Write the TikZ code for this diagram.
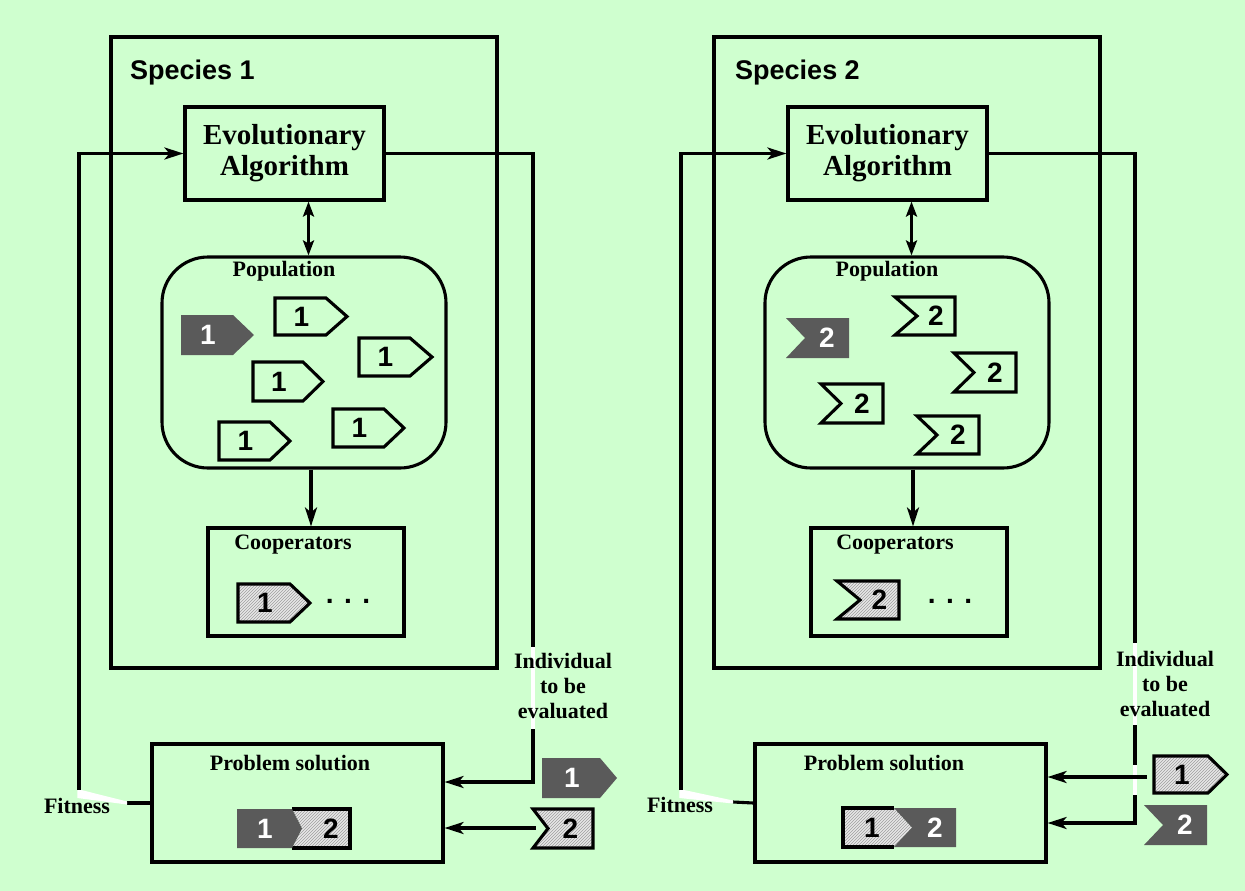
\documentclass[tikz,border=0pt]{standalone}
\usepackage{fontspec}
\setmainfont{Liberation Serif}
\newfontfamily\arialf{Liberation Sans}
\usetikzlibrary{arrows.meta,patterns,calc}
\definecolor{bg}{RGB}{207,255,207}
\definecolor{darkg}{RGB}{90,90,90}
\tikzset{
 ln/.style={line width=3.1pt, line join=miter},
 box/.style={draw, ln, rectangle, inner sep=0pt},
 arr/.style={ln, -{Stealth[length=19pt,width=12pt,inset=5pt]}},
 darr/.style={ln, {Stealth[length=15pt,width=11pt,inset=3pt]}-{Stealth[length=15pt,width=11pt,inset=3pt]}},
 hatch/.style={preaction={fill=black!9}, pattern=north east lines, pattern color=black!38},
 tokw/.style={draw, ln},
 tokh/.style={draw, ln, hatch},
 tokd/.style={fill=darkg},
 dig/.style={font=\arialf\bfseries\fontsize{28}{28}\selectfont, inner sep=0pt},
 digw/.style={dig, text=white},
 lab/.style={font=\bfseries\fontsize{22}{25}\selectfont, inner sep=0pt},
 spec/.style={font=\arialf\bfseries\fontsize{27}{27}\selectfont, inner sep=0pt, anchor=base west},
 eaf/.style={font=\bfseries\fontsize{29}{31}\selectfont, align=center},
 gapw/.style={white, line width=3.3pt},
}
% arrow token: name, x, y(top), body width, tip, height, shape style, text style, label
\newcommand\arrtok[9]{%
 \path[#7] (#2,#3) -- ++(#4,0) -- ++(#5,#6/2) -- ++(-#5,#6/2) -- ++(-#4,0) -- cycle;
 \node[#8] (#1) at ({#2+#4/2+1},{#3+#6/2}) {#9};}
% notch token: name, x, y(top), width, depth, height, shape style, text style, label
\newcommand\notchtok[9]{%
 \path[#7] (#2,#3) -- ++(#4,0) -- ++(0,#6) -- ++(-#4,0) -- ++(#5,-#6/2) -- cycle;
 \node[#8] (#1) at ({#2+#5+(#4-#5)/2},{#3+#6/2}) {#9};}
\begin{document}
\begin{tikzpicture}[x=1pt,y=-1pt]
\useasboundingbox (0,0) rectangle (1245,891);
\fill[bg] (0,0) rectangle (1245,891);

% ================= Species 1 =================
\node[box, minimum width=386pt, minimum height=631pt] (sp1) at (304,352.5) {};
\node[spec] (sl1) at (130,79) {Species 1};
\node[box, minimum width=199pt, minimum height=93pt, eaf] (ea1) at (284.5,153.5) {Evolutionary\\Algorithm};
\node[draw, ln, rounded corners=46pt, minimum width=284pt, minimum height=211pt, inner sep=0pt] (pop1) at (304,362.5) {};
\node[lab] (pl1) at (284,271) {Population};
\node[box, minimum width=196pt, minimum height=108pt] (coop1) at (306,582) {};
\node[lab] (cl1) at (293,545) {Cooperators};
\node[box, minimum width=291pt, minimum height=118pt] (prob1) at (297.5,803) {};
\node[lab] (ps1) at (290,763) {Problem solution};

\draw[darr] ([xshift=24pt]ea1.south) -- ([xshift=24pt]ea1.south |- pop1.north);
\draw[arr] ([xshift=5pt]coop1.north |- pop1.south) -- ([xshift=5pt]coop1.north);

% population tokens
\arrtok{p1a}{181}{315}{52}{21}{40}{tokd}{digw}{1}
\arrtok{p1b}{275}{298}{51}{21}{37}{tokw}{dig}{1}
\arrtok{p1c}{359}{338}{51}{22}{38}{tokw}{dig}{1}
\arrtok{p1d}{253}{362}{50}{20}{39}{tokw}{dig}{1}
\arrtok{p1e}{333}{409}{51}{20}{38}{tokw}{dig}{1}
\arrtok{p1f}{219}{422}{51}{20}{38}{tokw}{dig}{1}
% cooperator
\arrtok{c1a}{238}{584}{52}{20}{38}{tokh}{dig}{1}
\node[dig] (d1) at (348,601) {. . .};

% combined token in problem solution 1
\path[hatch] (292,809) -- (350,809) -- (350,848) -- (292,848) -- (302,828.5) -- cycle;
\draw[ln] (292,809) -- (350,809) -- (350,848) -- (292,848);
\fill[darkg] (237,809) -- (292,809) -- (302,828.5) -- (292,848) -- (237,848) -- cycle;
\node[digw] (k1a) at (265,829) {1};
\node[dig] (k1b) at (331,829) {2};

% outside tokens
\arrtok{o1a}{542}{758}{58}{17}{40}{tokd}{digw}{1}
\notchtok{o1b}{533}{809}{60}{15}{39}{tokh}{dig}{2}

% loops
\coordinate (c1) at (533,782);
\draw[arr] (ea1.east) -| (c1) -- (c1 -| prob1.east);
\coordinate (g1a) at (533,647);
\coordinate (g1b) at (533,729);
\draw[gapw] (g1a) -- (g1b);
\node[lab, align=center] (ind1) at (563,686) {Individual\\to be\\evaluated};
\coordinate (t1) at (536,828);
\draw[arr] (t1) -- (t1 -| prob1.east);

\coordinate (fa1) at (79,790);
\coordinate (fb1) at (127,803);
\draw[ln] (prob1.west) -- (fb1);
\fill[white] (77.4,789) -- (77.4,798) -- (127,804.5) -- (127,801.5) -- cycle;
\node[lab] (fit1) at (77,806) {Fitness};
\draw[arr] (fa1) |- (ea1.west);

% ================= Species 2 =================
\node[box, minimum width=386pt, minimum height=631pt] (sp2) at (907,352.5) {};
\node[spec] (sl2) at (735,79) {Species 2};
\node[box, minimum width=199pt, minimum height=93pt, eaf] (ea2) at (887.5,153.5) {Evolutionary\\Algorithm};
\node[draw, ln, rounded corners=46pt, minimum width=284pt, minimum height=211pt, inner sep=0pt] (pop2) at (907,362.5) {};
\node[lab] (pl2) at (887,271) {Population};
\node[box, minimum width=196pt, minimum height=108pt] (coop2) at (909,582) {};
\node[lab] (cl2) at (895,545) {Cooperators};
\node[box, minimum width=291pt, minimum height=118pt] (prob2) at (900.5,803) {};
\node[lab] (ps2) at (884,763) {Problem solution};

\draw[darr] ([xshift=24pt]ea2.south) -- ([xshift=24pt]ea2.south |- pop2.north);
\draw[arr] ([xshift=4pt]coop2.north |- pop2.south) -- ([xshift=4pt]coop2.north);

\notchtok{p2a}{786}{318}{63}{19}{40}{tokd}{digw}{2}
\notchtok{p2b}{895}{297}{60}{22}{38}{tokw}{dig}{2}
\notchtok{p2c}{954}{353}{62}{20}{39}{tokw}{dig}{2}
\notchtok{p2d}{821}{384}{62}{20}{39}{tokw}{dig}{2}
\notchtok{p2e}{917}{416}{62}{20}{38}{tokw}{dig}{2}
\notchtok{c2a}{837}{581}{62}{23}{38}{tokh}{dig}{2}
\node[dig] (d2) at (950,601) {. . .};

% combined token in problem solution 2
\path[hatch] (843,808) -- (894,808) -- (912,827.5) -- (894,847) -- (843,847) -- cycle;
\draw[ln] (894,808) -- (843,808) -- (843,847) -- (894,847);
\fill[darkg] (894,808) -- (956,808) -- (956,847) -- (894,847) -- (912,827.5) -- cycle;
\node[dig] (k2a) at (872,828) {1};
\node[digw] (k2b) at (935,828) {2};

\arrtok{o2a}{1154}{756}{54}{19}{37}{tokh}{dig}{1}
\notchtok{o2b}{1144}{805}{63}{19}{40}{tokd}{digw}{2}

\coordinate (c2) at (1135,823);
\draw[arr] (ea2.east) -| (c2) -- (c2 -| prob2.east);
\coordinate (g2a) at (1135,643);
\coordinate (g2b) at (1135,725);
\coordinate (g2c) at (1135,765);
\coordinate (g2d) at (1135,795);
\draw[gapw] (g2a) -- (g2b);
\draw[gapw] (g2c) -- (g2d);
\node[lab, align=center] (ind2) at (1165,684) {Individual\\to be\\evaluated};
\coordinate (t2) at (1147,777);
\draw[arr] (t2) -- (t2 -| prob2.east);

\coordinate (fa2) at (681,790);
\coordinate (fb2) at (733,802);
\draw[ln] (prob2.west) -- (fb2);
\fill[white] (679.4,789) -- (679.4,798) -- (733,803.5) -- (733,800.5) -- cycle;
\node[lab] (fit2) at (680,805) {Fitness};
\draw[arr] (fa2) |- (ea2.west);
\end{tikzpicture}
\end{document}
